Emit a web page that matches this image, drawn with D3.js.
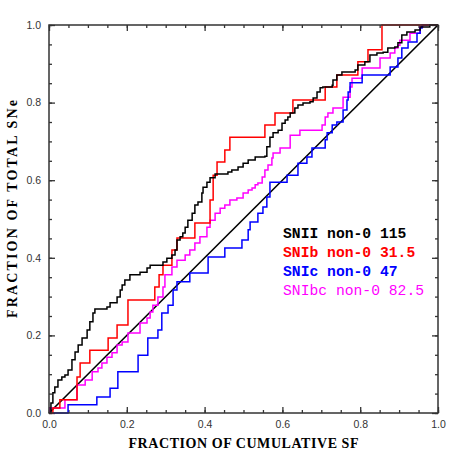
<!DOCTYPE html>
<html>
<head>
<meta charset="utf-8">
<script src="https://cdn.jsdelivr.net/npm/d3@7"></script>
<style>
html,body{margin:0;padding:0;background:#fff;}
svg{display:block;}
</style>
</head>
<body>
<svg id="chart" width="463" height="463"></svg>
<script>
// ---- data ----
const majorTicks = [0.0, 0.2, 0.4, 0.6, 0.8, 1.0];
const tickLabels = ["0.0", "0.2", "0.4", "0.6", "0.8", "1.0"];
const xTitle = "FRACTION OF CUMULATIVE SF";
const yTitle = "FRACTION OF TOTAL SNe";

const seriesNames = ["SNII non-0 115", "SNIb non-0 31.5", "SNIc non-0 47", "SNIbc non-0 82.5"];
const seriesColors = ["#000000", "#ff0000", "#0000ff", "#ff00ff"];

// step-rise points: [fraction of cumulative SF, fraction of total SNe]
const snII = [
 [0,0],[0.005,0.026],[0.010,0.052],[0.015,0.067],[0.023,0.085],[0.033,0.093],[0.041,0.098],
 [0.049,0.111],[0.059,0.137],[0.067,0.157],[0.075,0.175],[0.085,0.193],[0.098,0.214],[0.105,0.235],
 [0.113,0.258],[0.118,0.268],[0.149,0.273],[0.157,0.284],[0.175,0.299],[0.183,0.317],[0.188,0.330],
 [0.195,0.343],[0.208,0.356],[0.234,0.363],[0.252,0.374],[0.260,0.381],[0.293,0.389],[0.303,0.399],
 [0.316,0.407],[0.324,0.420],[0.329,0.446],[0.337,0.454],[0.344,0.464],[0.350,0.479],[0.357,0.497],
 [0.368,0.515],[0.375,0.536],[0.383,0.544],[0.393,0.567],[0.396,0.582],[0.406,0.595],[0.414,0.606],
 [0.427,0.616],[0.460,0.621],[0.470,0.626],[0.486,0.634],[0.499,0.644],[0.512,0.652],[0.530,0.660],
 [0.555,0.662],[0.560,0.686],[0.568,0.711],[0.576,0.722],[0.589,0.729],[0.599,0.747],[0.607,0.755],
 [0.614,0.763],[0.620,0.773],[0.632,0.786],[0.640,0.794],[0.653,0.799],[0.671,0.802],[0.679,0.812],
 [0.689,0.827],[0.697,0.838],[0.704,0.840],[0.728,0.845],[0.730,0.858],[0.740,0.871],[0.753,0.879],
 [0.787,0.884],[0.794,0.897],[0.812,0.905],[0.825,0.923],[0.843,0.928],[0.859,0.930],[0.871,0.941],
 [0.889,0.943],[0.897,0.954],[0.907,0.974],[0.920,0.982],[0.941,0.987],[0.954,0.995],[0.979,1.0],[1.0,1.0]
];
const snIb = [
 [0,0],[0.010,0.013],[0.028,0.034],[0.072,0.093],[0.080,0.129],[0.105,0.162],[0.152,0.193],
 [0.175,0.227],[0.203,0.291],[0.272,0.325],[0.283,0.356],[0.293,0.381],[0.316,0.420],[0.329,0.451],
 [0.375,0.490],[0.414,0.549],[0.422,0.613],[0.432,0.647],[0.452,0.678],[0.465,0.711],[0.555,0.742],
 [0.581,0.773],[0.627,0.807],[0.710,0.840],[0.740,0.871],[0.794,0.905],[0.820,0.936],[0.856,1.0],[1.0,1.0]
];
const snIc = [
 [0,0],[0.049,0.021],[0.123,0.041],[0.157,0.064],[0.177,0.106],[0.229,0.149],[0.254,0.193],
 [0.280,0.214],[0.290,0.258],[0.306,0.278],[0.319,0.317],[0.329,0.338],[0.362,0.361],[0.409,0.402],
 [0.452,0.425],[0.496,0.446],[0.512,0.472],[0.517,0.492],[0.537,0.515],[0.550,0.531],[0.560,0.557],
 [0.568,0.595],[0.612,0.613],[0.640,0.644],[0.663,0.660],[0.676,0.683],[0.710,0.704],[0.715,0.722],
 [0.728,0.742],[0.740,0.750],[0.756,0.781],[0.766,0.807],[0.769,0.827],[0.774,0.851],[0.805,0.871],
 [0.877,0.892],[0.897,0.915],[0.907,0.941],[0.923,0.956],[0.946,0.979],[0.954,0.992],[0.959,1.0],[1.0,1.0]
];
const snIbc = [
 [0,0],[0.003,0.013],[0.041,0.034],[0.072,0.072],[0.093,0.085],[0.111,0.106],[0.126,0.116],
 [0.136,0.129],[0.149,0.144],[0.162,0.155],[0.175,0.175],[0.188,0.183],[0.203,0.206],[0.234,0.232],
 [0.252,0.245],[0.260,0.260],[0.267,0.278],[0.280,0.299],[0.293,0.325],[0.298,0.356],[0.316,0.376],
 [0.329,0.394],[0.350,0.407],[0.362,0.420],[0.375,0.438],[0.388,0.454],[0.406,0.479],[0.414,0.497],
 [0.427,0.515],[0.440,0.528],[0.452,0.536],[0.465,0.549],[0.483,0.554],[0.499,0.567],[0.512,0.575],
 [0.522,0.580],[0.530,0.588],[0.537,0.593],[0.548,0.608],[0.555,0.626],[0.563,0.639],[0.573,0.657],
 [0.576,0.670],[0.594,0.683],[0.620,0.716],[0.645,0.729],[0.702,0.742],[0.710,0.763],[0.717,0.773],
 [0.730,0.786],[0.756,0.814],[0.774,0.840],[0.779,0.863],[0.805,0.889],[0.851,0.915],[0.877,0.928],
 [0.889,0.941],[0.897,0.948],[0.902,0.961],[0.928,0.979],[0.954,0.995],[0.961,1.0],[1.0,1.0]
];
const diagonal = [[0,0],[1,1]];

// ---- layout ----
const svg = d3.select("#chart");
const L = 49, R = 438, T = 25, B = 413;
const x = d3.scaleLinear().domain([0,1]).range([L,R]);
const y = d3.scaleLinear().domain([0,1]).range([B,T]);
const minorTicks = d3.range(0, 1.0001, 0.05).map(v => +v.toFixed(2));
const frameColor = "#333";
const tickFont = "'Liberation Sans', Arial, sans-serif";

svg.append("rect").attr("width",463).attr("height",463).attr("fill","#fff");

function fmt(d){ return tickLabels[majorTicks.findIndex(t => Math.abs(t-d)<1e-9)] || ""; }

function drawAxis(gen, tx, ty, labels){
  const g = svg.append("g").attr("transform",`translate(${tx},${ty})`);
  g.call(gen);
  g.select(".domain").remove();
  g.selectAll(".tick line").attr("stroke",frameColor).attr("stroke-width",1.3);
  g.selectAll("text").attr("font-family",tickFont).attr("font-size","10.5px").attr("fill","#333");
  return g;
}

// bottom
drawAxis(d3.axisBottom(x).tickValues(minorTicks).tickSizeInner(-3).tickSizeOuter(0).tickFormat(""),0,B);
drawAxis(d3.axisBottom(x).tickValues(majorTicks).tickSizeInner(-6).tickSizeOuter(0).tickPadding(8).tickFormat(fmt),0,B);
// top
drawAxis(d3.axisTop(x).tickValues(minorTicks).tickSizeInner(-3).tickSizeOuter(0).tickFormat(""),0,T);
drawAxis(d3.axisTop(x).tickValues(majorTicks).tickSizeInner(-6).tickSizeOuter(0).tickFormat(""),0,T);
// left
drawAxis(d3.axisLeft(y).tickValues(minorTicks).tickSizeInner(-3).tickSizeOuter(0).tickFormat(""),L,0);
drawAxis(d3.axisLeft(y).tickValues(majorTicks).tickSizeInner(-6).tickSizeOuter(0).tickPadding(8).tickFormat(fmt),L,0);
// right
drawAxis(d3.axisRight(y).tickValues(minorTicks).tickSizeInner(-3).tickSizeOuter(0).tickFormat(""),R,0);
drawAxis(d3.axisRight(y).tickValues(majorTicks).tickSizeInner(-6).tickSizeOuter(0).tickFormat(""),R,0);

// curves
const stepLine = d3.line().x(d => x(d[0])).y(d => y(d[1])).curve(d3.curveStepAfter);
const straight = d3.line().x(d => x(d[0])).y(d => y(d[1]));

svg.append("path").attr("d", straight(diagonal)).attr("fill","none").attr("stroke","#000").attr("stroke-width",1.6);

[snIbc, snIc, snIb, snII].forEach((s, i) => {
  const idx = [3,2,1,0][i];
  svg.append("path").attr("d", stepLine(s)).attr("fill","none")
     .attr("stroke", seriesColors[idx]).attr("stroke-width",1.5)
     .attr("stroke-linejoin","miter");
});

// frame
svg.append("rect").attr("x",L).attr("y",T).attr("width",R-L).attr("height",B-T)
   .attr("fill","none").attr("stroke",frameColor).attr("stroke-width",1.5);

// titles
svg.append("text").attr("x",(L+R)/2).attr("y",448).attr("text-anchor","middle")
   .attr("font-family","'Liberation Serif', 'Times New Roman', serif").attr("font-weight","bold")
   .attr("font-size","14px").attr("fill","#000").attr("textLength",230).attr("lengthAdjust","spacing")
   .text(xTitle);
svg.append("text").attr("transform",`translate(17,${209}) rotate(-90)`).attr("text-anchor","middle")
   .attr("font-family","'Liberation Serif', 'Times New Roman', serif").attr("font-weight","bold")
   .attr("font-size","14px").attr("fill","#000").attr("textLength",218).attr("lengthAdjust","spacing")
   .text(yTitle);

// legend
const legendY = [238, 257, 276, 295];
seriesNames.forEach((n, i) => {
  svg.append("text").attr("x",283).attr("y",legendY[i])
     .attr("font-family","'Liberation Mono', 'Courier New', monospace")
     .attr("font-weight", i < 3 ? "bold" : "normal")
     .attr("font-size","14.7px").attr("fill",seriesColors[i]).text(n);
});
</script>
</body>
</html>
